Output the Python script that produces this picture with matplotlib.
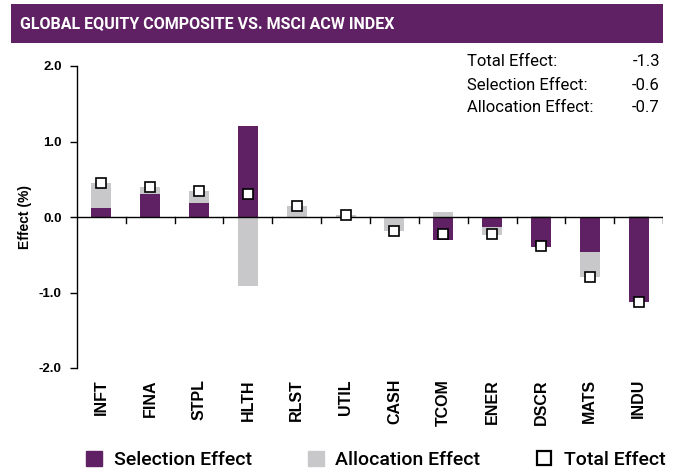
import matplotlib
matplotlib.use('Agg')
import matplotlib.pyplot as plt
import numpy as np
from matplotlib.patches import Rectangle
from matplotlib.lines import Line2D

plt.rcParams['font.family'] = ['Liberation Sans', 'DejaVu Sans']

sectors = ["INFT", "FINA", "STPL", "HLTH", "RLST", "UTIL",
           "CASH", "TCOM", "ENER", "DSCR", "MATS", "INDU"]
selection = [0.115, 0.31, 0.18, 1.21, 0.0, 0.0, 0.0, -0.31, -0.13, -0.40, -0.47, -1.13]
allocation = [0.33, 0.09, 0.16, -0.91, 0.14, 0.02, -0.19, 0.06, -0.11, 0.01, -0.33, 0.01]
total = [0.45, 0.40, 0.34, 0.30, 0.15, 0.02, -0.19, -0.23, -0.23, -0.39, -0.79, -1.12]
summary = [("Total Effect:", "-1.3"), ("Selection Effect:", "-0.6"), ("Allocation Effect:", "-0.7")]

purple = "#5f2163"
grey = "#c8c8ca"
din = ['Roboto', 'DejaVu Sans']

fig = plt.figure(figsize=(6.73, 4.70), dpi=100)

# title banner
fig.patches.append(Rectangle((11/673, 1 - 43/470), 652/673, 39/470, transform=fig.transFigure,
                             facecolor=purple, edgecolor='none'))
fig.text(20/673, 1 - 24/470, "GLOBAL EQUITY COMPOSITE VS. MSCI ACW INDEX", color='white',
         fontsize=11.5, fontweight='bold', va='center', ha='left', family=din)

ax = fig.add_axes([77/673, 1 - 368/470, 586/673, 302/470])
x = np.arange(len(sectors))
w = 0.41

# allocation stacks on selection when both go the same way
bottoms = [s if (s * a > 0) else 0 for s, a in zip(selection, allocation)]
ax.bar(x, selection, w, color=purple, zorder=2)
ax.bar(x, allocation, w, bottom=bottoms, color=grey, zorder=2)
ax.plot(x, total, ls='none', marker='s', ms=7.5, mfc='white', mec='black', mew=1.2, zorder=5)

ax.axhline(0, color='black', lw=1, zorder=3)
# short divider ticks under the zero line
for b in np.arange(0.5, len(sectors), 1.0):
    ax.plot([b, b], [0, -0.08], color='black', lw=1, zorder=3)

ax.set_xlim(-0.5, len(sectors) - 0.5)
ax.set_ylim(-2.0, 2.0)
ax.set_yticks([-2, -1, 0, 1, 2])
ax.set_yticklabels(["-2.0", "-1.0", "0.0", "1.0", "2.0"], fontweight='bold', fontsize=9.5)
ax.tick_params(axis='y', direction='out', length=5, width=1, pad=6)
ax.set_xticks(x)
ax.set_xticklabels(sectors, rotation=90, fontweight='bold', fontsize=11.5)
ax.tick_params(axis='x', length=0, pad=8)
for s in ['top', 'right', 'bottom']:
    ax.spines[s].set_visible(False)
ax.spines['left'].set_linewidth(1)
ax.set_ylabel("Effect (%)", fontweight='bold', fontsize=10, labelpad=5)

# summary block
for i, (lab, val) in enumerate(summary):
    yy = 1 - (62 + 23 * i) / 470
    fig.text(467/673, yy, lab, fontsize=12, va='center', ha='left', family=din)
    fig.text(660/673, yy, val, fontsize=12, va='center', ha='right', family=din)

handles = [Rectangle((0, 0), 1, 1, color=purple),
           Rectangle((0, 0), 1, 1, color=grey),
           Line2D([], [], ls='none', marker='s', ms=10.5, mfc='white', mec='black', mew=1.6)]
leg = fig.legend(handles, ["Selection Effect", "Allocation Effect", "Total Effect"],
                 loc='center', bbox_to_anchor=(376/673, 1 - 460/470), ncol=3, frameon=False,
                 handlelength=0.8, handleheight=0.8, columnspacing=2.9, handletextpad=0.6,
                 prop={'family': din, 'weight': 'medium', 'size': 14})

fig.savefig("out.png", dpi=100)
